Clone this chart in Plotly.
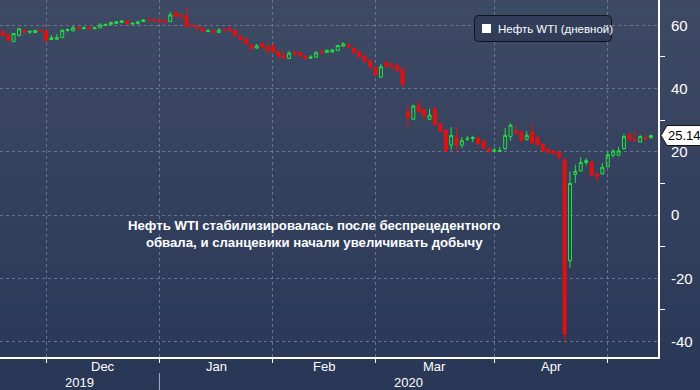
import pandas as pd
import plotly.graph_objects as go

# ---------------- data ----------------
holidays = ["2019-11-28", "2019-12-25", "2020-01-01", "2020-01-20", "2020-02-17", "2020-04-10"]
dates = pd.bdate_range("2019-11-18", "2020-05-12", freq="C", holidays=holidays)

open_ = [58.0, 57.0, 54.9, 56.8, 58.5, 57.8, 57.7, 58.5, 58.2,
         55.5, 55.6, 56.1, 58.4, 58.3, 59.3, 59.0, 59.2, 58.9, 59.2, 60.0, 60.2, 60.6, 60.9, 61.4, 60.4, 60.5, 61.2, 61.9, 61.9, 61.7,
         61.6, 61.2, 64.0, 63.3, 62.9, 60.0, 59.7, 59.1, 58.0, 58.3, 57.8, 58.7, 58.9, 58.5, 56.6, 55.7, 53.9, 52.8, 54.3, 53.4, 53.6,
         51.6, 50.5, 49.5, 51.5, 51.4, 50.3, 49.6, 49.9, 51.7, 51.4, 51.6, 52.0, 53.4, 53.8, 52.8, 51.6, 50.3, 48.8, 46.7,
         43.6, 48.2, 47.4, 47.4, 46.1, 32.8, 30.3, 34.7, 33.2, 30.3, 33.7, 28.8, 26.9, 22.1, 24.6, 22.1, 24.0, 24.2, 24.4, 23.3, 21.0, 20.2,
         20.1, 21.0, 24.8, 26.6, 26.3, 24.0, 26.3, 24.6, 22.5, 20.8, 20.3, 19.9, 17.6, -14.5, 12.8, 14.0, 16.6, 16.8, 13.0, 13.0, 15.3,
         18.9, 18.9, 21.0, 25.4, 24.0, 23.1, 24.4, 24.4]
high = [58.3, 57.3, 57.6, 59.1, 58.6, 58.2, 58.5, 58.8, 58.4,
        56.9, 57.2, 58.8, 59.0, 59.85, 59.4, 59.6, 59.5, 59.6, 60.7, 60.6, 61.1, 61.3, 61.6, 61.5, 61.0, 61.4, 61.9, 62.3, 62.3, 61.8,
        61.8, 64.2, 64.7, 63.5, 65.65, 60.4, 59.9, 59.2, 58.8, 58.5, 59.1, 59.0, 59.7, 58.6, 56.8, 55.9, 54.1, 54.1, 54.6, 53.6, 53.9,
        52.5, 51.5, 51.8, 52.0, 51.6, 50.6, 50.6, 51.8, 52.3, 52.4, 52.6, 53.8, 54.7, 54.0, 52.9, 51.8, 50.6, 49.0, 47.0,
        47.8, 48.9, 48.4, 47.8, 46.4, 34.7, 34.9, 36.4, 33.5, 33.6, 34.0, 29.3, 27.0, 27.8, 27.8, 24.7, 25.1, 25.1, 24.6, 23.6, 21.4, 21.3,
        21.6, 27.5, 29.0, 28.4, 26.6, 26.5, 28.6, 24.9, 22.9, 21.0, 20.5, 20.0, 17.9, 13.8, 15.9, 18.3, 18.0, 17.1, 13.2, 16.4, 19.9,
        20.8, 21.5, 25.6, 26.2, 26.9, 25.3, 25.3, 25.4]
low = [56.5, 54.9, 54.6, 56.5, 57.6, 57.3, 57.5, 57.8, 55.0,
       55.4, 55.4, 56.0, 58.0, 58.1, 58.6, 58.6, 58.6, 58.8, 59.1, 59.9, 60.1, 60.4, 60.8, 60.3, 60.2, 60.4, 61.1, 61.3, 61.2, 60.8,
       60.6, 61.0, 62.5, 62.3, 59.0, 59.2, 58.8, 57.9, 57.9, 57.6, 57.6, 58.0, 57.7, 56.4, 55.1, 53.9, 52.2, 52.6, 52.9, 51.4, 51.2,
       49.9, 49.3, 49.3, 50.4, 50.0, 49.3, 49.4, 49.8, 50.9, 51.3, 51.3, 51.9, 53.2, 52.8, 50.9, 49.7, 48.3, 45.9, 44.0,
       43.3, 46.7, 46.5, 45.4, 41.0, 27.8, 30.0, 32.4, 30.1, 30.0, 28.3, 26.2, 20.1, 20.5, 19.7, 21.2, 23.4, 23.1, 22.3, 20.9, 19.9, 20.0,
       20.0, 20.5, 23.5, 25.4, 23.2, 23.5, 22.6, 21.9, 20.0, 19.6, 19.3, 17.4, -40.4, -16.6, 10.2, 13.7, 15.7, 12.1, 10.4, 12.8, 15.0,
       18.2, 18.6, 20.6, 23.4, 23.3, 23.0, 23.8, 24.2]
close = [56.8, 55.2, 57.4, 58.9, 57.8, 58.1, 58.4, 58.1, 55.2,
         56.0, 56.1, 58.4, 58.6, 59.2, 59.0, 59.2, 58.8, 59.2, 60.1, 60.2, 60.9, 61.1, 61.4, 60.4, 60.6, 61.1, 61.7, 61.7, 61.5, 61.1,
         61.2, 63.3, 62.8, 62.7, 59.6, 59.6, 59.0, 58.1, 58.2, 57.8, 58.5, 58.5, 58.3, 56.7, 55.6, 54.2, 52.7, 53.5, 53.1, 51.9, 51.6,
         50.1, 49.6, 51.2, 51.0, 50.3, 49.5, 49.9, 51.3, 51.4, 52.1, 52.2, 53.6, 54.1, 53.1, 51.4, 49.9, 48.6, 46.9, 44.4,
         46.9, 46.9, 46.8, 45.7, 41.2, 30.9, 34.5, 32.6, 31.3, 31.6, 28.5, 26.5, 20.2, 25.2, 22.1, 23.5, 24.2, 24.5, 22.5, 21.2, 20.2, 20.5,
         20.4, 25.2, 28.4, 26.0, 23.5, 25.2, 22.7, 22.2, 20.2, 19.7, 19.5, 18.3, -37.7, 10.0, 13.8, 16.6, 17.2, 12.6, 12.1, 15.1, 19.1,
         20.2, 20.3, 24.8, 23.7, 23.5, 24.8, 24.0, 25.14]

series_name = "Нефть WTI (дневной)"
ytick_vals = [-40, -20, 0, 20, 40, 60]
yminor_vals = [-30, -10, 10, 30, 50]
year_labels = ["2019", "2020"]
note_lines = ["Нефть WTI стабилизировалась после беспрецедентного",
              "обвала, и сланцевики начали увеличивать добычу"]

# ---------------- layout constants ----------------
W, H = 700, 390
ML, MR, MT, MB = 0, 42, 0, 33
PW, PH = W - ML - MR, H - MT - MB
XMIN, XMAX = -0.52, 121.3
YMIN, YMAX = -44.9, 68.0
GREEN = "#22e33f"
RED = "#e3100f"
GRID = "rgba(120,135,165,0.75)"
FONT = "Arial"

n = len(dates)
x = list(range(n))
month_ends = [i for i in range(n - 1) if dates[i].month != dates[i + 1].month]
year_end = [i for i in range(n - 1) if dates[i].year != dates[i + 1].year][0]


def px_x(p):
    return (p - ML) / PW


def px_y(p):
    return (MT + PH - p) / PH


def xi_paper(i):
    return (i - XMIN) / (XMAX - XMIN)


def yv_paper(v):
    return (v - YMIN) / (YMAX - YMIN)


fig = go.Figure()
fig.add_trace(go.Candlestick(
    x=x, open=open_, high=high, low=low, close=close,
    increasing=dict(line=dict(color=GREEN, width=1), fillcolor="rgba(0,0,0,0)"),
    decreasing=dict(line=dict(color=RED, width=1), fillcolor=RED),
    whiskerwidth=0, showlegend=False, hoverinfo="skip", name=series_name,
))
# tick triangles on right axis
fig.add_trace(go.Scatter(
    x=[1.0065] * len(ytick_vals), y=ytick_vals, xaxis="x2", yaxis="y",
    mode="markers", marker=dict(symbol="triangle-right", size=8, color="white"),
    cliponaxis=False, showlegend=False, hoverinfo="skip",
))

shapes = []
# background gradient
top = (62, 74, 100)
bot = (41, 55, 87)
NB = 40
y_lo, y_hi = px_y(H + 2), px_y(-2)
for k in range(NB):
    t = k / (NB - 1)
    c = tuple(round(bot[j] + (top[j] - bot[j]) * t) for j in range(3))
    shapes.append(dict(type="rect", xref="paper", yref="paper", layer="below",
                       x0=px_x(-2), x1=px_x(W + 2),
                       y0=y_lo + (y_hi - y_lo) * k / NB, y1=y_lo + (y_hi - y_lo) * (k + 1) / NB + 0.002,
                       line=dict(width=0), fillcolor="rgb(%d,%d,%d)" % c))

# year separator
xs = xi_paper(year_end)
shapes.append(dict(type="line", xref="paper", yref="paper", x0=xs, x1=xs,
                   y0=px_y(373), y1=px_y(H + 2), line=dict(color="rgba(200,205,215,0.8)", width=1)))


# legend box (rounded)
def rounded(x0, y0, x1, y1, r):
    X = lambda p: px_x(p)
    Y = lambda p: px_y(p)
    return (f"M {X(x0 + r)},{Y(y0)} L {X(x1 - r)},{Y(y0)} Q {X(x1)},{Y(y0)} {X(x1)},{Y(y0 + r)} "
            f"L {X(x1)},{Y(y1 - r)} Q {X(x1)},{Y(y1)} {X(x1 - r)},{Y(y1)} "
            f"L {X(x0 + r)},{Y(y1)} Q {X(x0)},{Y(y1)} {X(x0)},{Y(y1 - r)} "
            f"L {X(x0)},{Y(y0 + r)} Q {X(x0)},{Y(y0)} {X(x0 + r)},{Y(y0)} Z")


shapes.append(dict(type="path", xref="paper", yref="paper", path=rounded(474.5, 15.5, 611.5, 41.5, 4),
                   line=dict(color="#0e131d", width=1), fillcolor="rgba(48,60,86,0.9)"))
shapes.append(dict(type="rect", xref="paper", yref="paper",
                   x0=px_x(482), x1=px_x(491), y0=px_y(33), y1=px_y(24),
                   line=dict(width=0), fillcolor="white"))

# last price tag
last = close[-1]
yl = yv_paper(last)
hh = 10 / PH
xa, xb, xc = px_x(661), px_x(667), px_x(W + 5)
shapes.append(dict(type="path", xref="paper", yref="paper",
                   path=f"M {xa},{yl} L {xb},{yl + hh} L {xc},{yl + hh} L {xc},{yl - hh} L {xb},{yl - hh} Z",
                   line=dict(color="#111111", width=1), fillcolor="white"))

annotations = []
# month labels
for k in range(len(month_ends) - 1):
    mid = (month_ends[k] + month_ends[k + 1]) / 2
    annotations.append(dict(x=mid, y=px_y(367), xref="x", yref="paper", text=dates[month_ends[k + 1]].strftime("%b"),
                            showarrow=False, font=dict(color="white", size=13, family=FONT),
                            xanchor="center", yanchor="middle"))
# year labels
spans = [(XMIN, year_end), (year_end, XMAX)]
for lbl, (a, b) in zip(year_labels, spans):
    annotations.append(dict(x=(a + b) / 2, y=px_y(382), xref="x", yref="paper", text=lbl,
                            showarrow=False, font=dict(color="white", size=13, family=FONT),
                            xanchor="center", yanchor="middle"))
# legend text
annotations.append(dict(x=px_x(496), y=px_y(29), xref="paper", yref="paper", text=series_name,
                        showarrow=False, font=dict(color="white", size=11.5, family=FONT),
                        xanchor="left", yanchor="middle"))
# last price text
annotations.append(dict(x=px_x(666), y=yl, xref="paper", yref="paper", text=f"{last:.2f}",
                        showarrow=False, font=dict(color="black", size=13, family=FONT),
                        xanchor="left", yanchor="middle"))
# commentary
annotations.append(dict(x=px_x(314), y=px_y(234), xref="paper", yref="paper",
                        text="<br>".join(f"<b>{s}</b>" for s in note_lines),
                        showarrow=False, align="center", font=dict(color="white", size=13.2, family=FONT),
                        xanchor="center", yanchor="middle"))

fig.update_layout(
    width=W, height=H, margin=dict(l=ML, r=MR, t=MT, b=MB),
    paper_bgcolor="rgb(41,55,87)", plot_bgcolor="rgba(0,0,0,0)",
    showlegend=False, shapes=shapes, annotations=annotations, boxgap=0.22,
    xaxis=dict(range=[XMIN, XMAX], tickvals=month_ends, ticks="outside", ticklen=4, tickwidth=1,
               tickcolor="white", showticklabels=False, showgrid=True, gridcolor=GRID, griddash="dot",
               gridwidth=1, zeroline=False, showline=True, linecolor="white", linewidth=2,
               rangeslider=dict(visible=False), fixedrange=True),
    xaxis2=dict(overlaying="x", range=[0, 1], visible=False, fixedrange=True),
    yaxis=dict(side="right", range=[YMIN, YMAX], tickvals=ytick_vals, ticktext=[str(v) for v in ytick_vals],
               ticks="outside", ticklen=8, tickcolor="rgba(0,0,0,0)",
               tickfont=dict(color="white", size=15, family=FONT),
               showgrid=True, gridcolor=GRID, griddash="dot", gridwidth=1, zeroline=False,
               showline=True, linecolor="white", linewidth=2, fixedrange=True,
               minor=dict(tickvals=yminor_vals, ticks="outside", ticklen=5, tickcolor="white", tickwidth=1,
                          showgrid=False)),
)

fig.write_html("out.html", config={"displayModeBar": False},
               post_script="document.body.style.margin='0';document.body.style.overflow='hidden';")
